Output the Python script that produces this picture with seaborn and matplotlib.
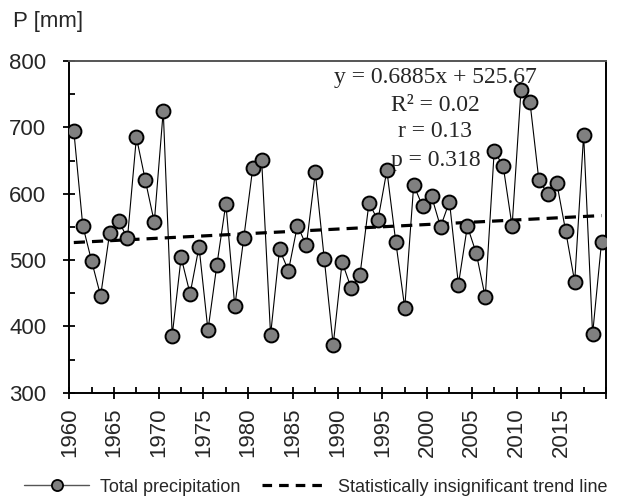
import numpy as np
import pandas as pd
import matplotlib
matplotlib.use("Agg")
import matplotlib.pyplot as plt
from matplotlib.lines import Line2D
from matplotlib.ticker import MultipleLocator, FixedLocator
import seaborn as sns

# ---- data ----
years = list(range(1960, 2020))
precip = [695, 552, 498, 446, 540, 559, 533, 685, 620, 557,
          725, 386, 504, 449, 520, 394, 493, 585, 430, 533,
          638, 651, 387, 516, 484, 552, 522, 632, 502, 372,
          497, 458, 478, 586, 560, 635, 527, 428, 613, 581,
          596, 550, 588, 463, 551, 510, 444, 664, 642, 551,
          757, 738, 620, 600, 616, 543, 467, 689, 388, 527]
trend_slope = 0.6885
trend_intercept = 525.67
stats_text = ["y = 0.6885x + 525.67", "R\u00b2 = 0.02", "r = 0.13", "p = 0.318"]
xtick_labels = ["1960", "1965", "1970", "1975", "1980", "1985",
                "1990", "1995", "2000", "2005", "2010", "2015", ""]
series_label = "Total precipitation"
trend_label = "Statistically insignificant trend line"
y_label = "P [mm]"

# ---- frame ----
df = pd.DataFrame({"year": years, "P": precip})
df["xpos"] = df["year"] + 0.5          # category centres
df["idx"] = np.arange(1, len(df) + 1)
df["trend"] = trend_slope * df["idx"] + trend_intercept

sns.set_style("ticks")
plt.rcParams["font.family"] = ["Liberation Sans", "DejaVu Sans"]

fig = plt.figure(figsize=(6.19, 5.0), dpi=100)
ax = fig.add_axes([0.112, 0.2146, 0.979 - 0.112, 0.878 - 0.2146])

sns.lineplot(data=df, x="xpos", y="trend", ax=ax, color="black",
             linewidth=2.3, linestyle=(0, (3.5, 2.2)), zorder=2)
sns.lineplot(data=df, x="xpos", y="P", ax=ax, color="black", linewidth=0.8,
             marker="o", markersize=10, markerfacecolor="#808080",
             markeredgecolor="black", markeredgewidth=1.4, zorder=3)

ax.set_xlim(1960, 2020)
ax.set_ylim(300, 800)
ax.set_xlabel("")
ax.set_ylabel("")

ax.xaxis.set_major_locator(FixedLocator(list(range(1960, 2021, 5))))
ax.set_xticklabels(xtick_labels, rotation=90, fontsize=16)
ax.xaxis.set_minor_locator(MultipleLocator(2.5))
ax.yaxis.set_major_locator(MultipleLocator(100))
ax.yaxis.set_minor_locator(MultipleLocator(50))
ax.tick_params(axis="y", labelsize=16)

ax.tick_params(which="major", direction="inout", length=9, width=1.3,
               color="black")
ax.tick_params(which="minor", direction="in", length=4.5, width=1.3,
               color="black")
ax.tick_params(axis="y", which="major", pad=12)
ax.tick_params(axis="x", which="major", pad=6)

for side in ["left", "bottom", "right"]:
    ax.spines[side].set_color("black")
    ax.spines[side].set_linewidth(1.4)
ax.spines["top"].set_color("#555555")
ax.spines["top"].set_linewidth(1.4)

text_y = [0.949, 0.867, 0.786, 0.701]
for s, yy in zip(stats_text, text_y):
    ax.text(0.682, yy, s, transform=ax.transAxes, ha="center", va="center",
            fontsize=17, family=["Liberation Serif", "DejaVu Serif"],
            zorder=1)

fig.text(0.021, 1 - 22 / 500, y_label, ha="left", va="center", fontsize=16)

handles = [
    Line2D([0], [0], color="#555555", linewidth=1.0, marker="o",
           markersize=8, markerfacecolor="#808080", markeredgecolor="black",
           markeredgewidth=1.3),
    Line2D([0], [0], color="black", linewidth=2.3, linestyle=(0, (3.0, 2.2))),
]
fig.legend(handles, [series_label, trend_label], loc="center",
           bbox_to_anchor=(0.51, 1 - 487 / 500), ncol=2, frameon=False,
           fontsize=13, handlelength=3.6, handletextpad=0.6,
           columnspacing=1.2)

fig.savefig("out.png", dpi=100)
